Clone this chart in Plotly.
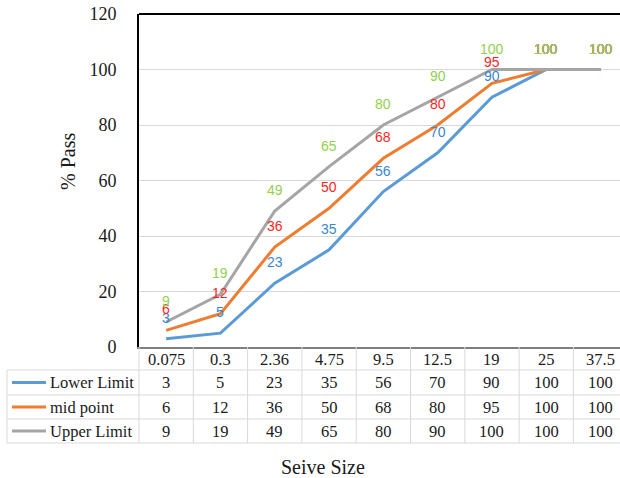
import plotly.graph_objects as go

sieve_sizes = ["0.075", "0.3", "2.36", "4.75", "9.5", "12.5", "19", "25", "37.5"]
lower_limit = [3, 5, 23, 35, 56, 70, 90, 100, 100]
mid_point = [6, 12, 36, 50, 68, 80, 95, 100, 100]
upper_limit = [9, 19, 49, 65, 80, 90, 100, 100, 100]
series_names = ["Lower Limit", "mid point", "Upper Limit"]
y_ticks = [0, 20, 40, 60, 80, 100, 120]

series = [lower_limit, mid_point, upper_limit]
line_colors = ["#5B9BD5", "#ED7D31", "#A5A5A5"]
label_colors = ["#3A87CC", "#FF1F1F", "#92D050"]

W, H = 620, 478
plot_left_pg, plot_top_pg, plot_bottom_pg = 139, 14, 347
L = plot_left_pg
T = plot_top_pg
B = H - plot_bottom_pg
R = 0
plot_h = H - T - B
plot_w = W - L - R
unit = 54.3
x_max = plot_w / unit - 0.5

def py(p):  # page pixel y -> paper y
    return (plot_bottom_pg - p) / plot_h

def px(p):  # page pixel x -> paper x
    return (p - plot_left_pg) / plot_w

serif = "Liberation Serif, Times New Roman, serif"
sans = "Liberation Sans, Arial, sans-serif"
txt = "#1a1a1a"

fig = go.Figure()
xs = list(range(len(sieve_sizes)))
for name, vals, col in zip(series_names, series, line_colors):
    fig.add_trace(go.Scatter(x=xs, y=vals, mode="lines", name=name,
                             line=dict(color=col, width=3), showlegend=False, hoverinfo="skip"))

annotations = []
shapes = []

def note(x, y, text, size, color, family=serif, xref="paper", yref="paper", xanchor="center", **kw):
    annotations.append(dict(x=x, y=y, xref=xref, yref=yref, text=text, showarrow=False,
                            xanchor=xanchor, yanchor="middle",
                            font=dict(family=family, size=size, color=color), **kw))

# data labels
for vals, col in zip(series, label_colors):
    for i, v in enumerate(vals):
        note(i, v, str(v), 14, col, family=sans, xref="x", yref="y", yshift=21)

# table geometry (page pixels)
row_lines = [370, 395, 419, 443]
row_centers = [382.5, 407, 431]
table_left = 7

for r in row_lines:
    shapes.append(dict(type="line", xref="paper", yref="paper", x0=px(table_left), x1=1, y0=py(r), y1=py(r),
                       line=dict(color="#D9D9D9", width=1)))
for i in range(len(sieve_sizes)):
    shapes.append(dict(type="line", xref="x", yref="paper", x0=i + 0.5, x1=i + 0.5, y0=py(347), y1=py(443),
                       line=dict(color="#D9D9D9", width=1)))
shapes.append(dict(type="line", xref="paper", yref="paper", x0=px(table_left), x1=px(table_left),
                   y0=py(370), y1=py(443), line=dict(color="#D9D9D9", width=1)))
shapes.append(dict(type="line", xref="paper", yref="paper", x0=0, x1=0, y0=py(347), y1=py(443),
                   line=dict(color="#D9D9D9", width=1)))

# header row (categories)
for i, s in enumerate(sieve_sizes):
    note(i, py(359), s, 16.5, txt, xref="x")

# table rows
for name, vals, col, yc in zip(series_names, series, line_colors, row_centers):
    shapes.append(dict(type="line", xref="paper", yref="paper", x0=px(12), x1=px(46), y0=py(yc), y1=py(yc),
                       line=dict(color=col, width=3)))
    note(px(48), py(yc), name, 16.5, txt, xanchor="left")
    for i, v in enumerate(vals):
        note(i, py(yc), str(v), 16.5, txt, xref="x")

# top border of plot area
shapes.append(dict(type="line", xref="paper", yref="paper", x0=0, x1=1, y0=1, y1=1,
                   line=dict(color="black", width=2)))

# axis titles
note(px(68), py(162), "% Pass", 20, txt, textangle=-90)
note(px(323), py(467), "Seive Size", 20, txt)

fig.update_layout(
    width=W, height=H,
    margin=dict(l=L, r=R, t=T, b=B, autoexpand=False),
    plot_bgcolor="white", paper_bgcolor="white",
    showlegend=False,
    hovermode=False,
    annotations=annotations,
    shapes=shapes,
    xaxis=dict(range=[-0.5, x_max], showticklabels=False, showgrid=False, zeroline=False,
               showline=True, linecolor="#7F7F7F", linewidth=2, ticks=""),
    yaxis=dict(range=[0, 120], tickvals=y_ticks, showgrid=True, gridcolor="#D9D9D9", gridwidth=1,
               zeroline=False, showline=True, linecolor="black", linewidth=2, ticks="",
               ticklabelstandoff=17, ticklabeloverflow="allow",
               tickfont=dict(family=serif, size=18, color=txt)),
)

fig.write_html("out.html",
               config={"displayModeBar": False},
               post_script="document.body.style.margin='0';document.body.style.overflow='hidden';")
